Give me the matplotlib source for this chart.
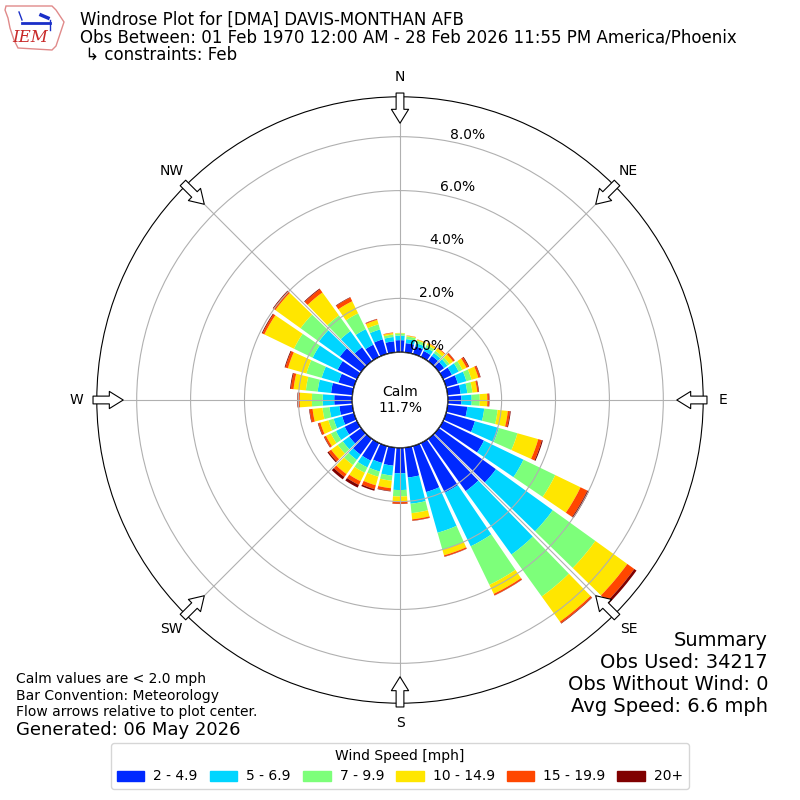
import matplotlib
matplotlib.use("Agg")
import matplotlib.pyplot as plt
import numpy as np
from matplotlib.patches import Circle, Patch, Polygon

# direction bins (degrees, wind from)
directions = np.arange(0, 360, 10)

# percent of obs per speed bin, one value per direction
spd_2_5 = [0.45, 0.35, 0.30, 0.25, 0.25, 0.25, 0.37, 0.46, 0.49, 0.51,
           0.74, 1.12, 1.69, 2.62, 2.40, 2.05, 1.78, 1.12, 0.95, 0.68,
           0.66, 0.73, 0.73, 0.55, 0.51, 0.46, 0.49, 0.67, 0.80, 0.60,
           0.80, 0.98, 0.64, 0.51, 0.57, 0.42]
spd_5_7 = [0.17, 0.15, 0.12, 0.15, 0.13, 0.15, 0.28, 0.33, 0.25, 0.38,
           0.63, 0.92, 1.63, 2.60, 2.90, 2.21, 1.57, 0.98, 0.62, 0.37,
           0.33, 0.28, 0.24, 0.30, 0.36, 0.33, 0.37, 0.43, 0.50, 0.65,
           1.03, 0.96, 0.74, 0.64, 0.38, 0.16]
spd_7_10 = [0.08, 0.10, 0.10, 0.10, 0.10, 0.10, 0.15, 0.20, 0.19, 0.30,
            0.50, 0.72, 1.31, 1.95, 1.92, 1.59, 0.65, 0.35, 0.24, 0.19,
            0.20, 0.22, 0.24, 0.23, 0.21, 0.20, 0.26, 0.40, 0.44, 0.59,
            0.77, 0.84, 0.72, 0.65, 0.20, 0.09]
spd_10_15 = [0.02, 0.03, 0.04, 0.08, 0.12, 0.16, 0.17, 0.26, 0.18, 0.28,
             0.38, 0.80, 1.04, 1.46, 1.15, 0.37, 0.22, 0.23, 0.19, 0.28,
             0.33, 0.35, 0.41, 0.30, 0.20, 0.31, 0.37, 0.45, 0.46, 0.71,
             1.22, 1.15, 1.05, 0.50, 0.17, 0.06]
spd_15_20 = [0.00, 0.01, 0.01, 0.02, 0.03, 0.07, 0.08, 0.07, 0.05, 0.06,
             0.08, 0.14, 0.28, 0.32, 0.07, 0.06, 0.05, 0.05, 0.08, 0.10,
             0.15, 0.15, 0.13, 0.12, 0.07, 0.08, 0.11, 0.07, 0.10, 0.10,
             0.08, 0.09, 0.15, 0.15, 0.03, 0.02]
spd_20 = [0.00, 0.00, 0.00, 0.00, 0.00, 0.01, 0.03, 0.02, 0.02, 0.02,
          0.03, 0.04, 0.07, 0.10, 0.02, 0.01, 0.01, 0.01, 0.01, 0.02,
          0.06, 0.11, 0.11, 0.05, 0.02, 0.02, 0.02, 0.02, 0.03, 0.03,
          0.03, 0.03, 0.03, 0.02, 0.01, 0.00]

bin_labels = ["2 - 4.9", "5 - 6.9", "7 - 9.9", "10 - 14.9", "15 - 19.9", "20+"]
calm_pct = 11.7
rings = [0, 2, 4, 6, 8]
compass = ["N", "NE", "E", "SE", "S", "SW", "W", "NW"]

series = [spd_2_5, spd_5_7, spd_7_10, spd_10_15, spd_15_20, spd_20]
colors = plt.cm.jet(np.linspace(0, 1, len(series) + 1)[1:])

fig = plt.figure(figsize=(8, 8), dpi=100)
ax = fig.add_axes([0.121, 0.121, 0.758, 0.758], projection="polar")
ax.set_theta_zero_location("N")
ax.set_theta_direction(-1)

theta = np.radians(directions)
width = np.radians(10) * 0.84
bottom = np.zeros(len(directions))
for vals, col in zip(series, colors):
    vals = np.array(vals)
    ax.bar(theta, vals, width=width, bottom=bottom, color=col,
           edgecolor="none", zorder=1)
    bottom += vals

ax.set_rorigin(-1.77)
ax.set_ylim(0, 9.48)
ax.set_axisbelow(False)
ax.set_rgrids(rings, labels=["%.1f%%" % r for r in rings], angle=11)
ax.set_thetagrids(np.arange(0, 360, 45), labels=compass)
ax.tick_params(axis="x", pad=4, labelsize=10)
ax.grid(True, color="#b0b0b0", lw=0.8)

# calm circle
calm = Circle((0.5, 0.5), 0.0788, transform=ax.transAxes, fc="white",
              ec="black", lw=1, zorder=5)
ax.add_artist(calm)
ax.text(0.5, 0.5, "Calm\n%.1f%%" % calm_pct, transform=ax.transAxes,
        ha="center", va="center", fontsize=10, zorder=6)

# flow arrows
for d in np.arange(0, 360, 45):
    ax.annotate("", xy=(np.radians(d), 8.5), xytext=(np.radians(d), 9.62),
                arrowprops=dict(arrowstyle="simple,head_length=0.5,head_width=0.62,tail_width=0.28",
                                fc="white", ec="black", lw=0.8,
                                shrinkA=0, shrinkB=0, mutation_scale=20),
                annotation_clip=False, zorder=7)

# header
fig.text(0.1, 0.975, "Windrose Plot for [DMA] DAVIS-MONTHAN AFB", fontsize=12, va="center")
fig.text(0.1, 0.9525, "Obs Between: 01 Feb 1970 12:00 AM - 28 Feb 2026 11:55 PM America/Phoenix",
         fontsize=12, va="center")
fig.text(0.1, 0.931, " \u21b3 constraints: Feb", fontsize=12, va="center")

# logo (rough Iowa outline)
px = [(6, 6), (52, 6), (56, 10), (60, 16), (64, 22), (62, 28), (60, 34),
      (58, 40), (56, 46), (52, 50), (18, 48), (14, 40), (10, 28), (8, 18), (5, 10)]
iowa = Polygon([(x / 800, 1 - y / 800) for x, y in px], closed=True, fill=False,
               ec="#e08a8a", lw=1, transform=fig.transFigure)
fig.add_artist(iowa)
fig.text(30 / 800, 1 - 37 / 800, "IEM", color="#c82828", fontsize=12, style="italic",
         family="DejaVu Serif", ha="center", va="center")
blue = "#1a2fc8"
fig.add_artist(plt.Line2D([22 / 800, 50 / 800], [1 - 23 / 800] * 2, color=blue, lw=2,
                          transform=fig.transFigure))
fig.add_artist(plt.Line2D([19 / 800, 22 / 800], [1 - 12 / 800, 1 - 20 / 800], color=blue, lw=1,
                          transform=fig.transFigure))
fig.add_artist(plt.Line2D([41 / 800, 48 / 800], [1 - 15 / 800, 1 - 18 / 800], color=blue, lw=2.5,
                          transform=fig.transFigure))
fig.add_artist(plt.Line2D([50 / 800, 50 / 800], [1 - 20 / 800, 1 - 30 / 800], color=blue, lw=1,
                          transform=fig.transFigure))

# notes
fig.text(0.02, 0.151, "Calm values are < 2.0 mph", fontsize=10, va="center")
fig.text(0.02, 0.130, "Bar Convention: Meteorology", fontsize=10, va="center")
fig.text(0.02, 0.110, "Flow arrows relative to plot center.", fontsize=10, va="center")
fig.text(0.02, 0.0875, "Generated: 06 May 2026", fontsize=13, va="center")

fig.text(0.96, 0.2, "Summary", fontsize=14, ha="right", va="center")
fig.text(0.96, 0.1725, "Obs Used: 34217", fontsize=14, ha="right", va="center")
fig.text(0.96, 0.145, "Obs Without Wind: 0", fontsize=14, ha="right", va="center")
fig.text(0.96, 0.1175, "Avg Speed: 6.6 mph", fontsize=14, ha="right", va="center")

handles = [Patch(color=c) for c in colors]
fig.legend(handles, bin_labels, loc="lower center", bbox_to_anchor=(0.5, 0.005),
           ncol=6, title="Wind Speed [mph]", fontsize=10, title_fontsize=10,
           columnspacing=0.85, handlelength=2.0, handletextpad=0.65)

fig.savefig("out.png", dpi=100)
